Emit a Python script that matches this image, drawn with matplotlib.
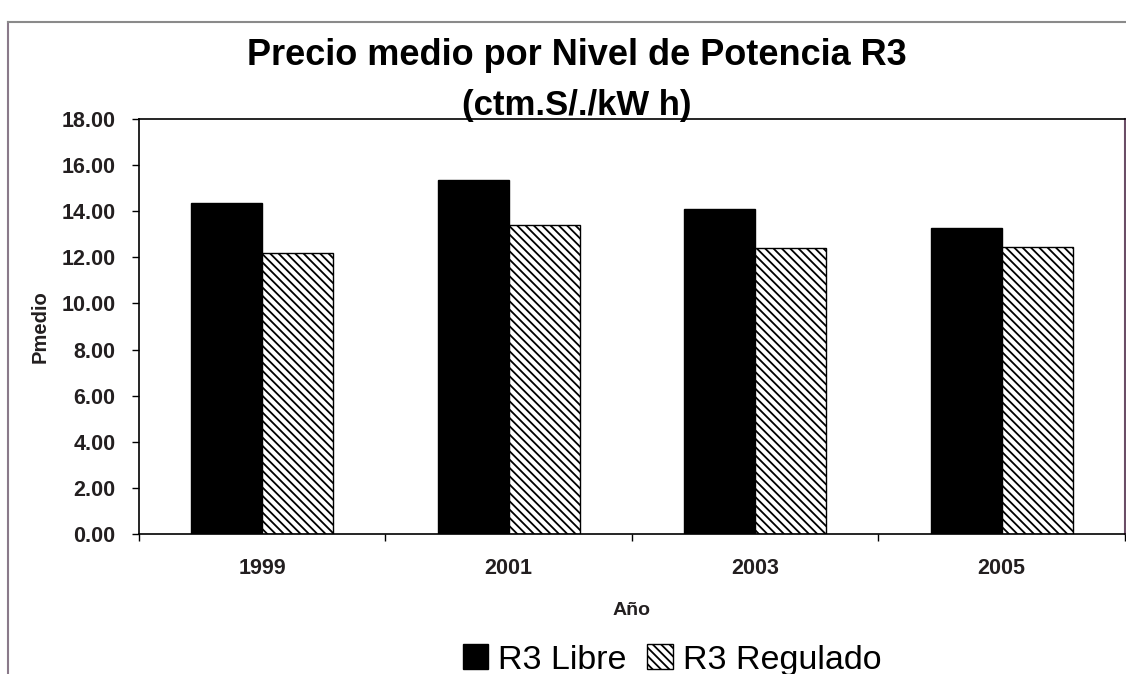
import numpy as np
import matplotlib
matplotlib.use('Agg')
import matplotlib.pyplot as plt
from matplotlib.patches import Patch
from matplotlib.lines import Line2D

# ---------- data ----------
years = ['1999', '2001', '2003', '2005']
libre = [14.37, 15.35, 14.08, 13.26]
regulado = [12.20, 13.40, 12.39, 12.46]
y_ticks = np.arange(0, 18.01, 2)

# ---------- style ----------
plt.rcParams['font.family'] = ['Liberation Sans', 'DejaVu Sans']
plt.rcParams['hatch.linewidth'] = 1.3
txt = '#231f20'

fig = plt.figure(figsize=(11.26, 6.74), dpi=100)
ax = fig.add_axes([0.1234, 0.2077, 0.8756, 0.6157])

x = np.arange(len(years))
w = 0.288
ax.bar(x - w / 2, libre, w, color='black', edgecolor='black', linewidth=1,
       label='R3 Libre')
ax.bar(x + w / 2, regulado, w, color='white', edgecolor='black', linewidth=1,
       hatch='\\\\\\\\', label='R3 Regulado')

ax.set_xlim(-0.5, len(years) - 0.5)
ax.set_ylim(0, 18)
ax.set_yticks(y_ticks)
ax.set_yticklabels([f'{v:.2f}' for v in y_ticks])

# category boundaries get the tick marks, labels sit in the middle
ax.set_xticks(np.arange(-0.5, len(years), 1))
ax.set_xticklabels([])
ax.set_xticks(x, minor=True)
ax.set_xticklabels(years, minor=True)
ax.tick_params(axis='x', which='major', direction='out', length=5, width=1)
ax.tick_params(axis='x', which='minor', length=0, pad=17, labelsize=15.5,
               labelcolor=txt)
ax.tick_params(axis='y', direction='out', length=5, width=1, pad=12,
               labelsize=15.5, labelcolor=txt)
for lab in ax.get_xticklabels(minor=True) + ax.get_yticklabels():
    lab.set_fontweight('bold')

for s in ['left', 'bottom', 'top']:
    ax.spines[s].set_color('black')
    ax.spines[s].set_linewidth(1.2)
ax.spines['right'].set_color('#6b4d66')
ax.spines['right'].set_linewidth(1.5)

ax.set_xlabel('Año', fontsize=14, fontweight='bold', color=txt, labelpad=17)
ax.set_ylabel('Pmedio', fontsize=14.5, fontweight='bold', color=txt, labelpad=8)

# title (two lines)
fig.text(0.512, 0.918, 'Precio medio por Nivel de Potencia R3', ha='center',
         va='center', fontsize=26, fontweight='bold', color='black')
fig.text(0.512, 0.843, '(ctm.S/./kW h)', ha='center', va='center',
         fontsize=25, fontweight='bold', color='black')

# legend at the bottom
handles = [Patch(facecolor='black', edgecolor='black', label='R3 Libre'),
           Patch(facecolor='white', edgecolor='black', hatch='\\\\\\\\',
                 label='R3 Regulado')]
fig.legend(handles=handles, loc='center', bbox_to_anchor=(0.597, 0.021),
           ncol=2, frameon=False, fontsize=24.5, handlelength=0.75,
           handleheight=0.75, handletextpad=0.3, columnspacing=0.6,
           labelcolor='black')

# outer chart frame
fig.add_artist(Line2D([0.007, 0.007], [0.0, 0.967], color='#8a7a8a',
                      linewidth=1.5, transform=fig.transFigure))
fig.add_artist(Line2D([0.007, 1.0], [0.967, 0.967], color='#8a8a8a',
                      linewidth=1.5, transform=fig.transFigure))

fig.savefig('out.png', dpi=100, facecolor='white')
